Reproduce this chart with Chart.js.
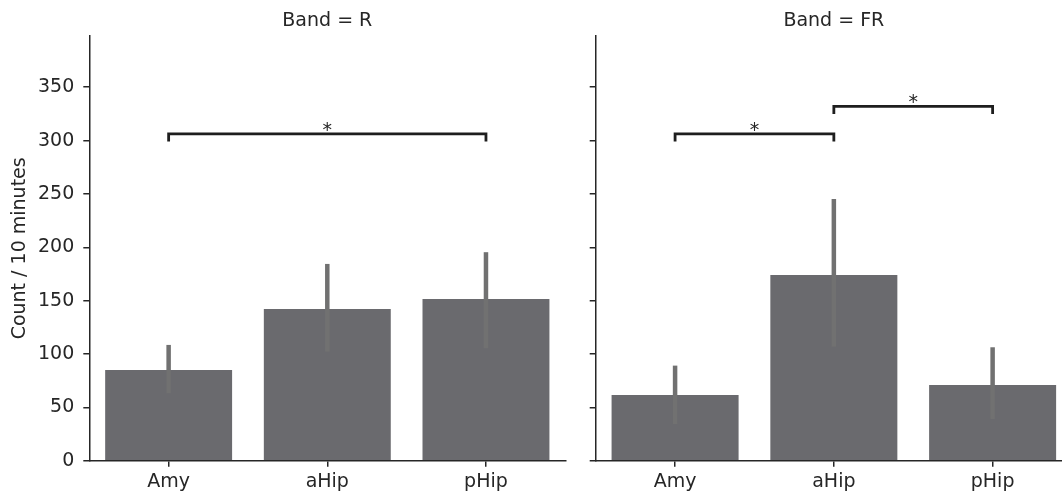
<!DOCTYPE html>
<html>
<head>
<meta charset="utf-8">
<script src="https://cdn.jsdelivr.net/npm/chart.js@4.4.1/dist/chart.umd.min.js"></script>
<style>
  html, body { margin: 0; padding: 0; background: #ffffff; overflow: hidden; }
  #wrap { position: relative; width: 1062px; height: 494px; overflow: hidden; background: #fff; }
  #cL { position: absolute; left: 0; top: 0; }
  #cR { position: absolute; left: 575px; top: 0; }
</style>
</head>
<body>
<div id="wrap">
  <canvas id="cL" width="575" height="494"></canvas>
  <canvas id="cR" width="507" height="494"></canvas>
</div>
<script>
// ---- data ----
const categories = ['Amy', 'aHip', 'pHip'];
const yTicks = [0, 50, 100, 150, 200, 250, 300, 350];
const yMax = 398;

const rMeans = [85.0, 142.2, 151.6];
const rLow   = [63.2, 102.2, 105.4];
const rHigh  = [108.5, 184.4, 195.4];

const frMeans = [61.6, 174.1, 71.0];
const frLow   = [34.4, 106.9, 39.1];
const frHigh  = [89.1, 245.3, 106.3];

const rBrackets  = [{ from: 0, to: 2, level: 306.3, drop: 7.2, label: '*' }];
const frBrackets = [{ from: 0, to: 1, level: 306.3, drop: 7.2, label: '*' },
                    { from: 1, to: 2, level: 332.0, drop: 7.2, label: '*' }];

// ---- style ----
const FONT = 'DejaVu Sans';
const FS = 19;
const INK = '#262626';
const BAR = '#6a6a6e';
const ERR = '#717171';
Chart.defaults.font.family = FONT;
Chart.defaults.font.size = FS;
Chart.defaults.color = INK;

function overlayPlugin(title, low, high, brackets) {
  return {
    id: 'overlay',
    afterDatasetsDraw(chart) {
      const ctx = chart.ctx;
      const xs = chart.scales.x, ys = chart.scales.y;
      ctx.save();
      // error bars
      ctx.strokeStyle = ERR;
      ctx.lineWidth = 4.5;
      ctx.lineCap = 'butt';
      for (let i = 0; i < categories.length; i++) {
        const x = xs.getPixelForValue(i);
        ctx.beginPath();
        ctx.moveTo(x, ys.getPixelForValue(low[i]));
        ctx.lineTo(x, ys.getPixelForValue(high[i]));
        ctx.stroke();
      }
      // significance brackets
      ctx.strokeStyle = '#1e1e1e';
      ctx.lineWidth = 2.8;
      ctx.lineJoin = 'miter';
      ctx.fillStyle = INK;
      ctx.font = FS + 'px "' + FONT + '"';
      ctx.textAlign = 'center';
      ctx.textBaseline = 'alphabetic';
      brackets.forEach(b => {
        const x1 = xs.getPixelForValue(b.from), x2 = xs.getPixelForValue(b.to);
        const yl = ys.getPixelForValue(b.level), yd = ys.getPixelForValue(b.level - b.drop);
        ctx.beginPath();
        ctx.moveTo(x1, yd);
        ctx.lineTo(x1, yl);
        ctx.lineTo(x2, yl);
        ctx.lineTo(x2, yd);
        ctx.stroke();
        ctx.fillText(b.label, (x1 + x2) / 2, yl + 2);
      });
      // panel title
      const ca = chart.chartArea;
      ctx.fillStyle = INK;
      ctx.fillText(title, (ca.left + ca.right) / 2, 26);
      ctx.restore();
    }
  };
}

function makeChart(id, means, low, high, title, brackets, yAxisWidth, padRight, showYLabels) {
  return new Chart(document.getElementById(id), {
    type: 'bar',
    data: {
      labels: categories,
      datasets: [{
        data: means,
        backgroundColor: BAR,
        borderWidth: 0,
        barPercentage: 0.8,
        categoryPercentage: 1.0
      }]
    },
    options: {
      responsive: false,
      devicePixelRatio: 1,
      animation: false,
      events: [],
      layout: { padding: { left: 0, right: padRight, top: 36, bottom: 0 } },
      plugins: { legend: { display: false }, tooltip: { enabled: false }, title: { display: false } },
      scales: {
        x: {
          type: 'category',
          offset: true,
          grid: { display: true, drawOnChartArea: false, drawTicks: true, tickLength: 6, offset: false, color: INK, lineWidth: 1.5 },
          border: { display: true, color: INK, width: 1.5 },
          ticks: { color: INK, font: { size: FS }, padding: 4, maxRotation: 0 },
          afterFit(s) { s.height = 494 - 460.7; }
        },
        y: {
          type: 'linear',
          min: 0,
          max: yMax,
          grid: { display: true, drawOnChartArea: false, drawTicks: true, tickLength: 6, color: INK, lineWidth: 1.5 },
          border: { display: true, color: INK, width: 1.5 },
          ticks: {
            color: INK, font: { size: FS }, padding: 9, stepSize: 50, autoSkip: false,
            callback: (v) => showYLabels ? String(v) : ''
          },
          afterBuildTicks(s) { s.ticks = yTicks.map(v => ({ value: v })); },
          title: {
            display: showYLabels,
            text: 'Count / 10 minutes',
            color: INK,
            font: { size: FS },
            padding: { top: 9, bottom: 0 }
          },
          afterFit(s) { s.width = yAxisWidth; }
        }
      }
    },
    plugins: [overlayPlugin(title, low, high, brackets)]
  });
}

makeChart('cL', rMeans, rLow, rHigh, 'Band = R', rBrackets, 89.3, 575 - 565.3, true);
makeChart('cR', frMeans, frLow, frHigh, 'Band = FR', frBrackets, 20.7, 10, false);
</script>
</body>
</html>
